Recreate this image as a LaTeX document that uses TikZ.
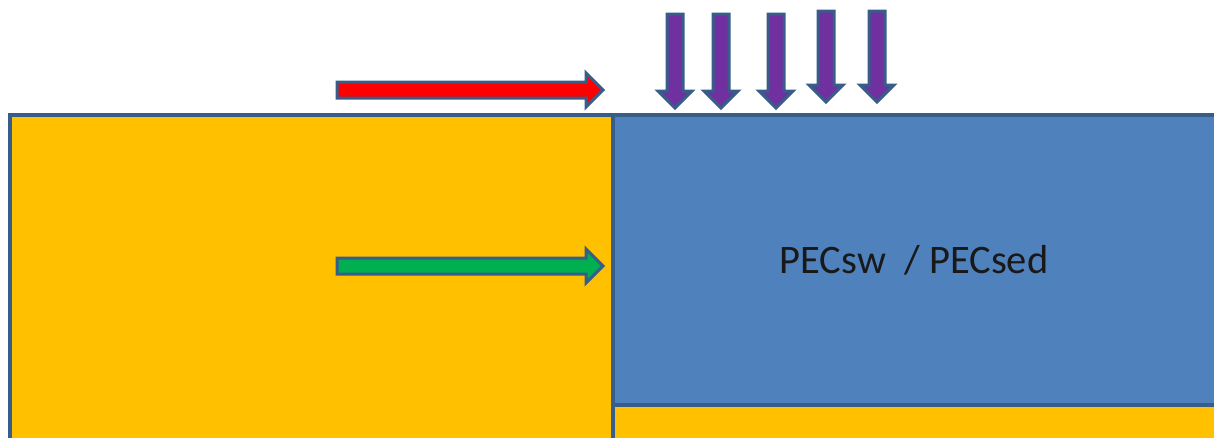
\documentclass[tikz,border=0pt]{standalone}
\usepackage{fontspec}
\setmainfont{Carlito}
\definecolor{amber}{HTML}{FFC000}
\definecolor{steel}{HTML}{4F81BD}
\definecolor{edge}{HTML}{385D8A}
\definecolor{violet}{HTML}{7030A0}
\definecolor{leaf}{HTML}{00B050}
\tikzset{
  region/.style={draw=edge, line width=4pt},
  arrowline/.style={draw=edge, line width=3pt, line join=miter},
}
% block arrow: #1 fill, #2/#3 tail centre, #4 direction angle, #5 length
\newcommand\blockarrow[5]{%
  \filldraw[arrowline, fill=#1, shift={(#2,#3)}, rotate=#4]
    (0,-8) -- (#5-17,-8) -- (#5-17,-17) -- (#5,0) -- (#5-17,17)
    -- (#5-17,8) -- (0,8) -- cycle;}
\begin{document}
\begin{tikzpicture}[x=1pt, y=-1pt]
  \useasboundingbox (0,0) rectangle (1214,437);
  \clip (0,0) rectangle (1214,437);
  % left medium
  \filldraw[region, fill=amber] (10,115) rectangle (613,450);
  % right block and the layer beneath it
  \filldraw[region, fill=steel] (613,115) rectangle (1230,405);
  \filldraw[region, fill=amber] (613,405) rectangle (1230,450);
  \node[anchor=base, font=\fontsize{40.5}{42}\selectfont, text=black!90] (label)
    at (914,273) {PECsw\ \ / PECsed};
  % horizontal arrows
  \blockarrow{red}{337}{90}{0}{266}
  \blockarrow{leaf}{337}{266}{0}{266}
  % vertical arrows
  \blockarrow{violet}{675}{14}{-90}{94}
  \blockarrow{violet}{721}{14}{-90}{94}
  \blockarrow{violet}{776}{14}{-90}{94}
  \blockarrow{violet}{826}{11}{-90}{91}
  \blockarrow{violet}{877}{11}{-90}{91}
\end{tikzpicture}
\end{document}
